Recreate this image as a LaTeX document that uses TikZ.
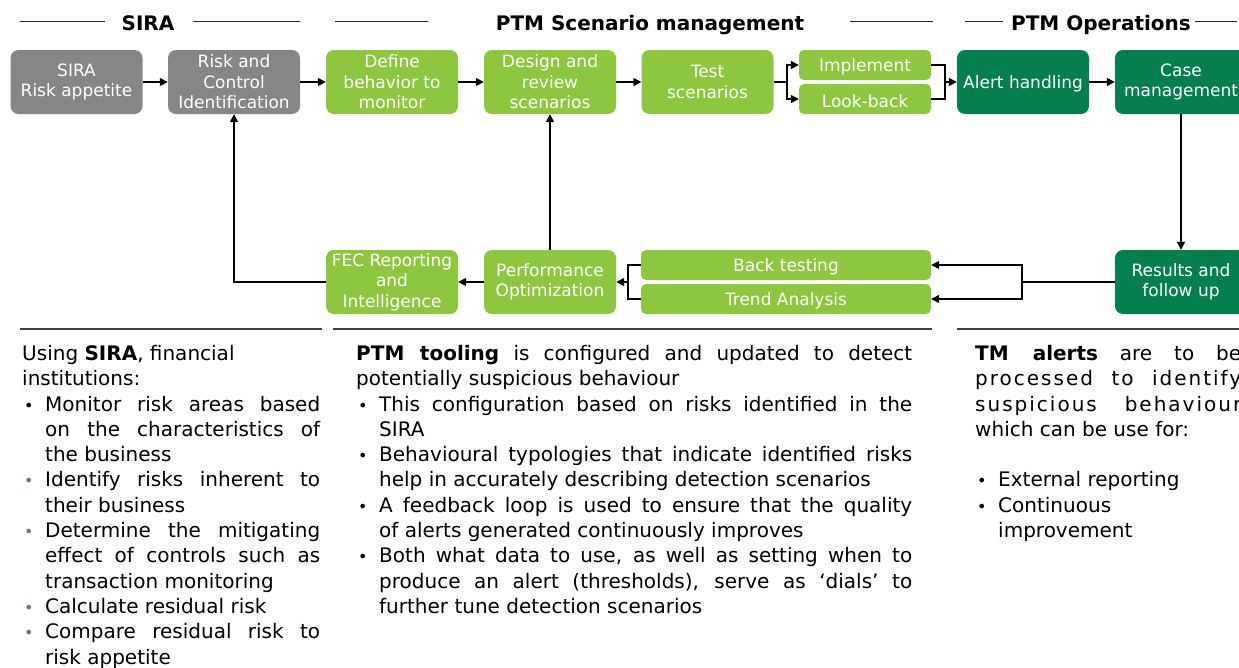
\documentclass[tikz,border=0pt]{standalone}
\usepackage{fontspec}
\setmainfont{DejaVu Sans}
\usepackage{xcolor}
\usetikzlibrary{arrows.meta, positioning, calc}

\definecolor{siragrey}{RGB}{134,134,134}
\definecolor{ptmgreen}{RGB}{141,198,63}
\definecolor{opsgreen}{RGB}{6,127,79}
\definecolor{bulletblue}{RGB}{100,118,145}

% bullet line with hanging indent
\newcommand{\bitem}[2][black]{\par\hangindent=23pt\hangafter=1\noindent\makebox[23pt][l]{\hspace{2pt}\textcolor{#1}{\fontsize{16}{16}\selectfont\textbullet}}#2\par}
% tracked line, as in the operations text
\newcommand{\spaced}[2]{{\addfontfeatures{LetterSpace=#1}#2}}

\begin{document}
\begin{tikzpicture}[x=1pt, y=-1pt,
    stage/.style={rectangle, rounded corners=8pt, minimum width=132pt, minimum height=64pt, inner xsep=1pt, inner ysep=0pt, align=center, text=white, font=\fontsize{17}{20.5}\selectfont, execute at begin node={\rule{0pt}{17.5pt}}},
    sirabox/.style={stage, fill=siragrey},
    ptmbox/.style={stage, fill=ptmgreen},
    opsbox/.style={stage, fill=opsgreen},
    halfbox/.style={ptmbox, minimum height=30pt, rounded corners=5pt},
    header/.style={anchor=base, inner sep=0pt, font=\fontsize{20}{24}\selectfont\bfseries},
    rule/.style={line width=1.3pt, draw=black!85},
    separator/.style={line width=1.5pt, draw=black!75},
    bodytext/.style={anchor=north west, inner sep=0pt, align=justify, font=\fontsize{20}{25.3}\selectfont},
    line/.style={line width=1.5pt, draw=black},
    arrow/.style={line, -{Triangle[length=8pt, width=8pt]}}
]
    \useasboundingbox (0,0) rectangle (1239,667);
    \clip (0,0) rectangle (1239,667);

    % Headers
    \node[header] (hsira) at (148,30) {SIRA};
    \node[header] (hptm) at (650,30) {PTM Scenario management};
    \node[header] (hops) at (1101,30) {PTM Operations};
    \draw[rule] (20,21.5) -- (105,21.5);
    \draw[rule] (193,21.5) -- (300,21.5);
    \draw[rule] (335,21.5) -- (428,21.5);
    \draw[rule] (850,21.5) -- (933,21.5);
    \draw[rule] (965,21.5) -- (1003,21.5);
    \draw[rule] (1195,21.5) -- (1237,21.5);

    % Top row
    \node[sirabox] (sira) at (76.5,82) {SIRA\\Risk appetite};
    \node[sirabox] (ric) at (234,82) {Risk and\\Control\\Identification};
    \node[ptmbox] (define) at (392,82) {Define\\behavior to\\monitor};
    \node[ptmbox] (design) at (550,82) {Design and\\review\\scenarios};
    \node[ptmbox] (test) at (707.5,82) {Test\\scenarios};
    \node[halfbox] (impl) at (865,65) {Implement};
    \node[halfbox] (look) at (865,99) {Look-back};
    \node[opsbox] (alert) at (1023,82) {Alert handling};
    \node[opsbox] (case) at (1181,82) {Case\\management};

    % Bottom row
    \node[ptmbox] (fec) at (392,282) {FEC Reporting\\and\\Intelligence};
    \node[ptmbox] (perf) at (550,282) {Performance\\Optimization};
    \node[halfbox, minimum width=290pt] (back) at (786,265) {Back testing};
    \node[halfbox, minimum width=290pt] (trend) at (786,299) {Trend Analysis};
    \node[opsbox] (results) at (1181,282) {Results and\\follow up};

    \coordinate (splitA) at (787,82);
    \coordinate (mergeA) at (945,82);
    \coordinate (splitB) at (1022,282);
    \coordinate (mergeB) at (628,282);

    % Connectors
    \draw[arrow] (sira) -- (ric);
    \draw[arrow] (ric) -- (define);
    \draw[arrow] (define) -- (design);
    \draw[arrow] (design) -- (test);
    \draw[line] (test.east) -- (splitA);
    \draw[arrow] (splitA) |- (impl.west);
    \draw[arrow] (splitA) |- (look.west);
    \draw[line] (impl.east) -| (mergeA);
    \draw[line] (look.east) -| (mergeA);
    \draw[arrow] (mergeA) -- (alert.west);
    \draw[arrow] (alert) -- (case);
    \draw[arrow] (case) -- (results);
    \draw[line] (results.west) -- (splitB);
    \draw[arrow] (splitB) |- (back.east);
    \draw[arrow] (splitB) |- (trend.east);
    \draw[line] (back.west) -| (mergeB);
    \draw[line] (trend.west) -| (mergeB);
    \draw[arrow] (mergeB) -- (perf.east);
    \draw[arrow] (perf) -- (fec);
    \draw[arrow] (perf) -- (design);
    \draw[arrow] (fec.west) -| (ric.south);

    % Separators
    \draw[separator] (20,329) -- (322,329);
    \draw[separator] (333,329) -- (932,329);
    \draw[separator] (957,329) -- (1245,329);

    % SIRA text
    \node[bodytext, text width=298pt] (siratext) at (22,345) {%
        Using \textbf{SIRA}, financial\newline institutions:
        \bitem{Monitor risk areas based\linebreak on the characteristics of\linebreak the business}
        \bitem[bulletblue]{Identify risks inherent to\linebreak their business}
        \bitem[bulletblue]{Determine the mitigating\linebreak effect of controls such as\linebreak transaction monitoring}
        \bitem[bulletblue]{Calculate residual risk}
        \bitem[bulletblue]{Compare residual risk to\linebreak risk appetite}};

    % PTM text
    \node[bodytext, text width=556pt] (ptmtext) at (356,345) {%
        \textbf{PTM tooling} is configured and updated to detect\linebreak potentially suspicious behaviour
        \bitem{This configuration based on risks identified in the\linebreak SIRA}
        \bitem{Behavioural typologies that indicate identified risks\linebreak help in accurately describing detection scenarios}
        \bitem{A feedback loop is used to ensure that the quality\linebreak of alerts generated continuously improves}
        \bitem{Both what data to use, as well as setting when to\linebreak produce an alert (thresholds), serve as ‘dials’ to\linebreak further tune detection scenarios}};

    % Operations text
    \node[bodytext, text width=266pt] (opstext) at (975,345) {%
        \textbf{TM alerts} are to be\linebreak \spaced{10}{processed to identify}\linebreak \spaced{10}{suspicious behaviour}\linebreak which can be use for:
        \par\vspace{25.3pt}
        \bitem{External reporting}
        \bitem{Continuous\newline improvement}};
\end{tikzpicture}
\end{document}
